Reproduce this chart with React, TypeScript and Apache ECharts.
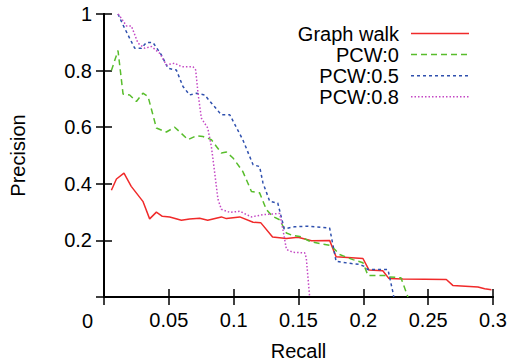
import React, { useEffect, useRef } from "react";
import * as echarts from "echarts";

const xTickLabels = ["0", "0.05", "0.1", "0.15", "0.2", "0.25", "0.3"];
const yTickLabels = ["0", "0.2", "0.4", "0.6", "0.8", "1"];

const seriesNames = ["Graph walk", "PCW:0", "PCW:0.5", "PCW:0.8"];
const seriesColors = ["#f02a2a", "#58bd2c", "#2f50ae", "#c447c4"];
const seriesDash: any[] = ["solid", [6, 4], [3, 3], [1.5, 2]];

const graphWalk = [
  [0.0057, 0.377], [0.0096, 0.417], [0.0154, 0.438], [0.021, 0.391], [0.03, 0.338],
  [0.0352, 0.276], [0.0404, 0.3], [0.045, 0.285], [0.0507, 0.283], [0.0597, 0.271],
  [0.066, 0.276], [0.0738, 0.278], [0.08, 0.271], [0.0905, 0.283], [0.0944, 0.277],
  [0.1047, 0.283], [0.115, 0.264], [0.121, 0.262], [0.13, 0.212], [0.1407, 0.207],
  [0.1496, 0.211], [0.16, 0.199], [0.174, 0.2], [0.179, 0.142], [0.1997, 0.136],
  [0.2044, 0.095], [0.215, 0.093], [0.2198, 0.065], [0.2306, 0.064], [0.264, 0.062],
  [0.269, 0.041], [0.2884, 0.035], [0.2936, 0.029], [0.2988, 0.026],
];

const pcw0 = [
  [0.0057, 0.8], [0.0108, 0.871], [0.0147, 0.717], [0.0198, 0.714], [0.025, 0.691],
  [0.03, 0.72], [0.034, 0.708], [0.0404, 0.597], [0.0481, 0.583], [0.0545, 0.6],
  [0.0648, 0.556], [0.0713, 0.57], [0.0763, 0.567], [0.0828, 0.556], [0.0867, 0.532],
  [0.0905, 0.509], [0.0944, 0.512], [0.0995, 0.491], [0.107, 0.444], [0.1137, 0.373],
  [0.12, 0.368], [0.1252, 0.309], [0.13, 0.285], [0.1355, 0.273], [0.1407, 0.226],
  [0.1457, 0.217], [0.151, 0.214], [0.1586, 0.197], [0.1663, 0.189], [0.175, 0.182],
  [0.1817, 0.15], [0.192, 0.132], [0.1997, 0.121], [0.2036, 0.076], [0.2165, 0.076],
  [0.22, 0.071], [0.229, 0.068], [0.2344, 0],
];

const pcw05 = [
  [0.0108, 1.0], [0.0147, 0.961], [0.0198, 0.914], [0.0237, 0.879], [0.0288, 0.879],
  [0.0327, 0.899], [0.0378, 0.899], [0.0443, 0.855], [0.0494, 0.808], [0.0558, 0.802],
  [0.0609, 0.744], [0.066, 0.714], [0.0713, 0.72], [0.0776, 0.714], [0.084, 0.679],
  [0.0905, 0.644], [0.097, 0.644], [0.107, 0.556], [0.115, 0.467], [0.12, 0.461],
  [0.1226, 0.403], [0.1278, 0.338], [0.134, 0.332], [0.139, 0.241], [0.147, 0.248],
  [0.157, 0.25], [0.174, 0.244], [0.179, 0.126], [0.191, 0.118], [0.197, 0.115],
  [0.2003, 0.109], [0.2036, 0.097], [0.219, 0.097], [0.2229, 0.015], [0.2235, 0],
];

const pcw08 = [
  [0.0108, 1.0], [0.0134, 0.985], [0.0173, 0.958], [0.0211, 0.958], [0.0262, 0.897],
  [0.0314, 0.879], [0.0366, 0.885], [0.043, 0.861], [0.0481, 0.82], [0.0545, 0.826],
  [0.0597, 0.814], [0.0686, 0.814], [0.0707, 0.802], [0.0725, 0.72], [0.0751, 0.632],
  [0.08, 0.597], [0.0828, 0.532], [0.0854, 0.438], [0.0879, 0.345], [0.0905, 0.31],
  [0.097, 0.299], [0.1047, 0.303], [0.1137, 0.283], [0.1226, 0.291], [0.1355, 0.295],
  [0.138, 0.238], [0.1407, 0.168], [0.1457, 0.158], [0.1548, 0.156], [0.156, 0.138],
  [0.1586, 0],
];

const seriesData = [graphWalk, pcw0, pcw05, pcw08];

const FONT = "'Liberation Sans', Arial, Helvetica, sans-serif";

export default function App() {
  const ref = useRef<HTMLDivElement>(null);
  useEffect(() => {
    if (!ref.current) return;
    const chart = echarts.init(ref.current, undefined, { renderer: "svg" });
    const xMax = Number(xTickLabels[xTickLabels.length - 1]);
    const xStep = Number(xTickLabels[1]);
    const yMax = Number(yTickLabels[yTickLabels.length - 1]);
    const yStep = Number(yTickLabels[1]);
    const lineCol = "#000";
    const tick = { show: true, inside: true, length: 8, lineStyle: { color: lineCol, width: 1.5 } };
    const axLine = { show: true, lineStyle: { color: lineCol, width: 2 } };
    const fmt = (v: number) => String(Number(v.toFixed(3)));

    const legendGraphic: any[] = [];
    seriesNames.forEach((name, i) => {
      const y = 33.5 + i * 21.1;
      legendGraphic.push({
        type: "text",
        x: 399,
        y,
        style: {
          text: name,
          fill: "#000",
          font: `20px ${FONT}`,
          textAlign: "right",
          textVerticalAlign: "middle",
        },
      });
      legendGraphic.push({
        type: "line",
        shape: { x1: 411, y1: y, x2: 469, y2: y },
        style: {
          stroke: seriesColors[i],
          lineWidth: 1.5,
          lineDash: seriesDash[i] === "solid" ? null : seriesDash[i],
        },
      });
    });

    chart.setOption({
      animation: false,
      backgroundColor: "#fff",
      grid: {
        left: 104,
        right: 20,
        top: 14,
        bottom: 64,
        containLabel: false,
        outerBoundsMode: "none",
      },
      xAxis: [
        {
          type: "value",
          min: 0,
          max: xMax,
          interval: xStep,
          name: "Recall",
          nameLocation: "middle",
          nameGap: 44,
          nameTextStyle: { fontFamily: FONT, fontSize: 20, color: "#000" },
          axisLine: axLine,
          axisTick: tick,
          splitLine: { show: false },
          axisLabel: {
            showMinLabel: false,
            margin: 13,
            fontFamily: FONT,
            fontSize: 20,
            color: "#000",
            formatter: fmt,
          },
        },
        {
          type: "value",
          position: "top",
          min: 0,
          max: xMax,
          interval: xStep,
          axisLine: axLine,
          axisTick: tick,
          splitLine: { show: false },
          axisLabel: { show: false },
        },
      ],
      yAxis: [
        {
          type: "value",
          min: 0,
          max: yMax,
          interval: yStep,
          name: "Precision",
          nameLocation: "middle",
          nameGap: 76,
          nameTextStyle: { fontFamily: FONT, fontSize: 20, color: "#000" },
          axisLine: axLine,
          axisTick: tick,
          splitLine: { show: false },
          axisLabel: {
            showMinLabel: false,
            margin: 12,
            fontFamily: FONT,
            fontSize: 20,
            color: "#000",
            formatter: fmt,
          },
        },
        {
          type: "value",
          position: "right",
          min: 0,
          max: yMax,
          interval: yStep,
          axisLine: axLine,
          axisTick: tick,
          splitLine: { show: false },
          axisLabel: { show: false },
        },
      ],
      series: seriesNames.map((name, i) => ({
        name,
        type: "line",
        xAxisIndex: 0,
        yAxisIndex: 0,
        data: seriesData[i],
        showSymbol: false,
        symbol: "none",
        clip: true,
        lineStyle: { color: seriesColors[i], width: 1.5, type: seriesDash[i] },
        itemStyle: { color: seriesColors[i] },
      })),
      graphic: [
        {
          type: "text",
          x: 93,
          y: 311,
          style: {
            text: xTickLabels[0],
            fill: "#000",
            font: `20px ${FONT}`,
            textAlign: "right",
            textVerticalAlign: "top",
          },
        },
        ...legendGraphic,
      ],
    });
    return () => chart.dispose();
  }, []);
  return (
    <div
      ref={ref}
      style={{ position: "fixed", left: 0, top: 0, width: 513, height: 361 }}
    />
  );
}
